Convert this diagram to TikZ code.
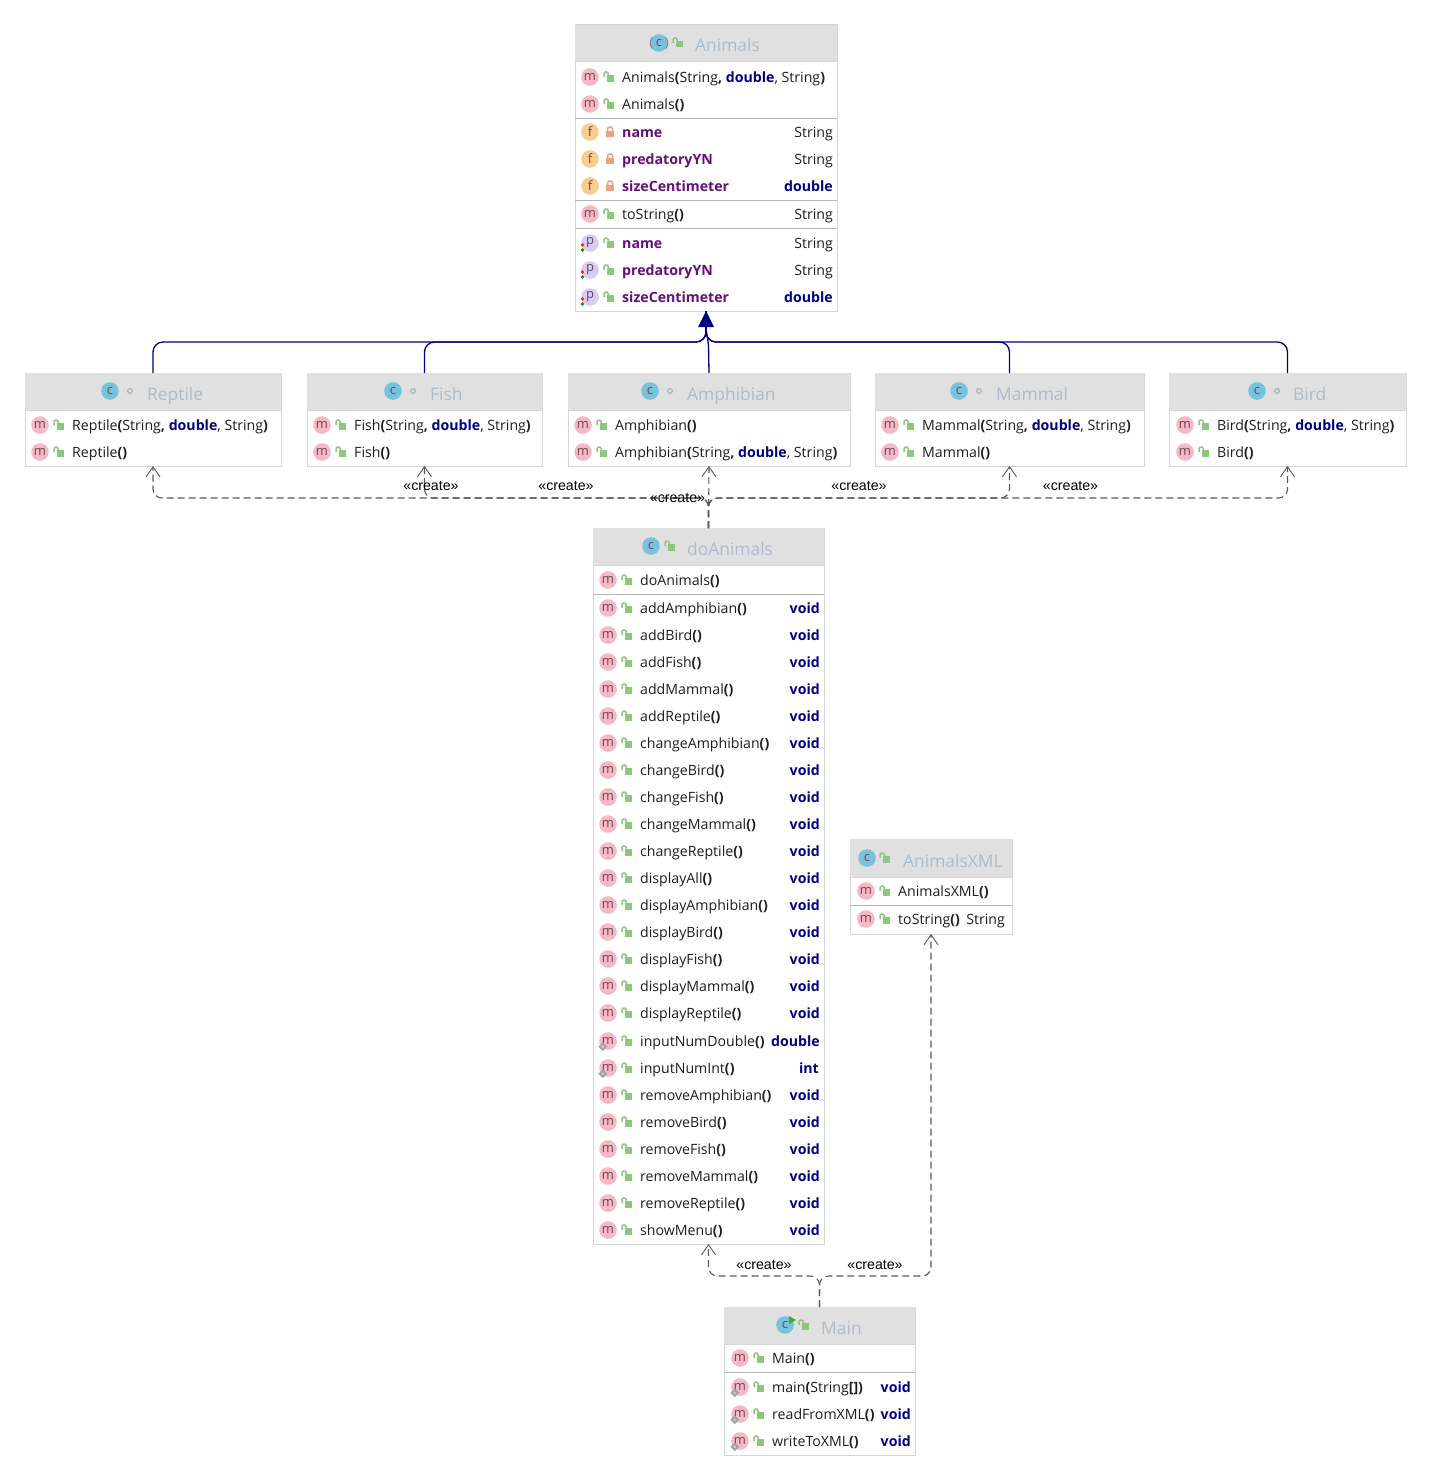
\documentclass[tikz,border=0pt]{standalone}
\usepackage{fontspec}
\setmainfont{Open Sans}
\newfontfamily\labelfont{Liberation Sans}
\usetikzlibrary{arrows.meta,calc}
\definecolor{hdr}{HTML}{E0E0E0}
\definecolor{bord}{HTML}{D4D6D8}
\definecolor{titlec}{HTML}{AEBBCB}
\definecolor{txt}{HTML}{1E1E1E}
\definecolor{kwc}{HTML}{000080}
\definecolor{fieldc}{HTML}{660E7A}
\definecolor{mic}{HTML}{F6B8C6}
\definecolor{fic}{HTML}{F8CE8E}
\definecolor{pic}{HTML}{D9CBF3}
\definecolor{cic}{HTML}{78C2DC}
\definecolor{lockg}{HTML}{8CC87C}
\definecolor{lockr}{HTML}{EDA07E}
\definecolor{icont}{HTML}{6A4A50}
\definecolor{depc}{HTML}{5A5A5A}
\definecolor{statc}{HTML}{9AA5AE}
\newcounter{nn}
\newcommand\kw[1]{\textbf{\textcolor{kwc}{#1}}}
\newcommand\pb[1]{\textbf{#1}}
\newcommand\fld[1]{\textbf{\textcolor{fieldc}{#1}}}
\newcommand\txtnode[4]{\stepcounter{nn}\node[#1] (n\thenn) at (#2,#3) {#4};}
\newcommand\iconl[4]{\begin{scope}[shift={(#1,#2)}]\fill[#3] (0,0) circle (8.8pt);\stepcounter{nn}\node[icontext] (n\thenn) at (0,0) {#4};\end{scope}}
\newcommand\lockopen[2]{\begin{scope}[shift={(#1,#2)}]\fill[lockg] (-2,-2) rectangle (5,4.5);\draw[lockg,line width=1.5pt,rounded corners=1.5pt] (-5,0) -- (-5,-5) -- (-0.7,-5) -- (-0.7,-2);\end{scope}}
\newcommand\lockshut[2]{\begin{scope}[shift={(#1,#2)}]\fill[lockr] (-4,-1) rectangle (4,5);\draw[lockr,line width=1.5pt,rounded corners=1.5pt] (-2.5,-1) -- (-2.5,-5) -- (2.5,-5) -- (2.5,-1);\end{scope}}
\newcommand\ringicon[2]{\draw[gray!70,line width=1pt] (#1,#2) circle (2.4pt);}
\newcommand\staticmark[2]{\begin{scope}[shift={(#1,#2)}]\draw[statc,line width=2pt] (-5.3,2.7) -- (-2.3,5.7) -- (-5.3,8.7) -- (-8.3,5.7) -- cycle;\end{scope}}
% row: x of icon, y, text, right text, x of right edge
\newcommand\mrow[5]{\iconl{#1}{#2}{mic}{m}\lockopen{\the\numexpr#1+19\relax}{#2}\txtnode{rowtext}{\the\numexpr#1+32\relax}{#2}{#3}\ifx&#4&\else\txtnode{righttext}{#5}{#2}{#4}\fi}
\newcommand\srow[5]{\iconl{#1}{#2}{mic}{m}\staticmark{#1}{#2}\lockopen{\the\numexpr#1+19\relax}{#2}\txtnode{rowtext}{\the\numexpr#1+32\relax}{#2}{#3}\ifx&#4&\else\txtnode{righttext}{#5}{#2}{#4}\fi}
\newcommand\frow[3]{\iconl{590}{#1}{fic}{f}\lockshut{610}{#1}\txtnode{rowtext}{622}{#1}{\fld{#2}}\txtnode{righttext}{833}{#1}{#3}}
\newcommand\prow[3]{\iconl{590}{#1}{pic}{p}\fill[red!70!orange] (582.5,#1+2) circle (1.8pt);\fill[green!60!black] (582.5,#1+7) circle (1.8pt);\lockopen{609}{#1}\txtnode{rowtext}{622}{#1}{\fld{#2}}\txtnode{righttext}{833}{#1}{#3}}
% header: x1,x2,top,bottom
\newcommand\hdrbar[4]{\fill[hdr] (#1,#3) rectangle (#2,#4);\draw[bord,line width=1pt] (#1,#4) -- (#2,#4);}
\newcommand\sepline[3]{\draw[bord!85!black,line width=1pt] (#1,#3) -- (#2,#3);}
\newcommand\ttl[3]{\txtnode{titletext}{#1}{#2}{#3}}
\tikzset{
  classbox/.style={draw=bord,line width=1pt,fill=white,inner sep=0pt,outer sep=0pt},
  rowtext/.style={anchor=west,inner sep=0pt,font=\fontsize{14.15}{16}\selectfont,text=txt,text height=14pt,text depth=3pt},
  righttext/.style={anchor=east,inner sep=0pt,font=\fontsize{14.15}{16}\selectfont,text=txt,text height=14pt,text depth=3pt},
  titletext/.style={anchor=west,inner sep=0pt,font=\fontsize{17.4}{20}\selectfont,text=titlec,text height=18pt,text depth=4pt},
  icontext/.style={inner sep=0pt,font=\fontsize{13}{14}\selectfont,text=icont},
  inherit/.style={draw=kwc,line width=1.3pt,rounded corners=10pt},
  dep/.style={draw=depc,line width=1.1pt,dash pattern=on 7pt off 4pt,rounded corners=9pt,-{Straight Barb[length=10pt,width=14pt,line width=.9pt]}},
  createlabel/.style={inner sep=0pt,font=\labelfont\fontsize{14.2}{16}\selectfont,text=black},
}
\begin{document}
\begin{tikzpicture}[x=1pt,y=-1pt]
\path[use as bounding box,fill=white] (0,0) rectangle (1431,1480);

% class boxes
\node[classbox,minimum width=262pt,minimum height=286pt] (animals) at (706,168) {};
\node[classbox,minimum width=256pt,minimum height=93pt] (reptile) at (153,419.5) {};
\node[classbox,minimum width=235pt,minimum height=93pt] (fish) at (424.5,419.5) {};
\node[classbox,minimum width=282pt,minimum height=93pt] (amphibian) at (709,419.5) {};
\node[classbox,minimum width=269pt,minimum height=93pt] (mammal) at (1009.5,419.5) {};
\node[classbox,minimum width=237pt,minimum height=93pt] (bird) at (1287.5,419.5) {};
\node[classbox,minimum width=231pt,minimum height=716pt] (doanimals) at (708.5,886) {};
\node[classbox,minimum width=162pt,minimum height=95pt] (xml) at (931,886.5) {};
\node[classbox,minimum width=191pt,minimum height=148pt] (mainc) at (819.5,1381) {};

% headers
\hdrbar{575}{837}{25}{62}
\hdrbar{25}{281}{373}{410}
\hdrbar{307}{542}{373}{410}
\hdrbar{568}{850}{373}{410}
\hdrbar{875}{1144}{373}{410}
\hdrbar{1169}{1406}{373}{410}
\hdrbar{593}{824}{528}{565}
\hdrbar{850}{1012}{839}{877}
\hdrbar{724}{915}{1307}{1344}

% separators
\sepline{575}{837}{118}
\sepline{575}{837}{200}
\sepline{575}{837}{228}
\sepline{593}{824}{594}
\sepline{850}{1012}{905}
\sepline{724}{915}{1372}

% titles
\iconl{659}{43}{cic}{c}\draw[gray,line width=.8pt] ($(659,43)+(140:8.8pt)$) arc (140:220:8.8pt);\draw[gray,line width=.8pt] ($(659,43)+(-40:8.8pt)$) arc (-40:40:8.8pt);
\lockopen{678}{43}\ttl{695}{45}{Animals}
\iconl{110}{391}{cic}{c}\ringicon{130}{391}\ttl{147}{393}{Reptile}
\iconl{393}{391}{cic}{c}\ringicon{413}{391}\ttl{430}{393}{Fish}
\iconl{650}{391}{cic}{c}\ringicon{670}{391}\ttl{687}{393}{Amphibian}
\iconl{959}{391}{cic}{c}\ringicon{979}{391}\ttl{996}{393}{Mammal}
\iconl{1257}{391}{cic}{c}\ringicon{1277}{391}\ttl{1293}{393}{Bird}
\iconl{651}{546}{cic}{c}\lockopen{670}{546}\ttl{687}{548}{doAnimals}
\iconl{867}{858}{cic}{c}\lockopen{885}{858}\ttl{903}{860}{AnimalsXML}
\iconl{785}{1325}{cic}{c}\fill[green!60!black!80] (789,1316) -- (796,1320) -- (789,1324) -- cycle;\lockopen{804}{1325}\ttl{821}{1327}{Main}

% Animals rows
\mrow{590}{77}{Animals\pb{(}String\pb{,} \kw{double}, String\pb{)}}{}{0}
\mrow{590}{104}{Animals\pb{()}}{}{0}
\frow{132}{name}{String}
\frow{159}{predatoryYN}{String}
\frow{186}{sizeCentimeter}{\kw{double}}
\mrow{590}{214}{toString\pb{()}}{String}{833}
\prow{243}{name}{String}
\prow{270}{predatoryYN}{String}
\prow{297}{sizeCentimeter}{\kw{double}}

% subclasses
\mrow{40}{425}{Reptile\pb{(}String\pb{,} \kw{double}, String\pb{)}}{}{0}
\mrow{40}{452}{Reptile\pb{()}}{}{0}
\mrow{322}{425}{Fish\pb{(}String\pb{,} \kw{double}, String\pb{)}}{}{0}
\mrow{322}{452}{Fish\pb{()}}{}{0}
\mrow{583}{425}{Amphibian\pb{()}}{}{0}
\mrow{583}{452}{Amphibian\pb{(}String\pb{,} \kw{double}, String\pb{)}}{}{0}
\mrow{890}{425}{Mammal\pb{(}String\pb{,} \kw{double}, String\pb{)}}{}{0}
\mrow{890}{452}{Mammal\pb{()}}{}{0}
\mrow{1185}{425}{Bird\pb{(}String\pb{,} \kw{double}, String\pb{)}}{}{0}
\mrow{1185}{452}{Bird\pb{()}}{}{0}

% doAnimals rows
\mrow{608}{580}{doAnimals\pb{()}}{}{0}
\mrow{608}{608}{addAmphibian\pb{()}}{\kw{void}}{820}
\mrow{608}{635}{addBird\pb{()}}{\kw{void}}{820}
\mrow{608}{662}{addFish\pb{()}}{\kw{void}}{820}
\mrow{608}{689}{addMammal\pb{()}}{\kw{void}}{820}
\mrow{608}{716}{addReptile\pb{()}}{\kw{void}}{820}
\mrow{608}{743}{changeAmphibian\pb{()}}{\kw{void}}{820}
\mrow{608}{770}{changeBird\pb{()}}{\kw{void}}{820}
\mrow{608}{797}{changeFish\pb{()}}{\kw{void}}{820}
\mrow{608}{824}{changeMammal\pb{()}}{\kw{void}}{820}
\mrow{608}{851}{changeReptile\pb{()}}{\kw{void}}{820}
\mrow{608}{878}{displayAll\pb{()}}{\kw{void}}{820}
\mrow{608}{905}{displayAmphibian\pb{()}}{\kw{void}}{820}
\mrow{608}{932}{displayBird\pb{()}}{\kw{void}}{820}
\mrow{608}{959}{displayFish\pb{()}}{\kw{void}}{820}
\mrow{608}{986}{displayMammal\pb{()}}{\kw{void}}{820}
\mrow{608}{1013}{displayReptile\pb{()}}{\kw{void}}{820}
\srow{608}{1041}{inputNumDouble\pb{()}}{\kw{double}}{820}
\srow{608}{1068}{inputNumInt\pb{()}}{\kw{int}}{819}
\mrow{608}{1095}{removeAmphibian\pb{()}}{\kw{void}}{820}
\mrow{608}{1122}{removeBird\pb{()}}{\kw{void}}{820}
\mrow{608}{1149}{removeFish\pb{()}}{\kw{void}}{820}
\mrow{608}{1176}{removeMammal\pb{()}}{\kw{void}}{820}
\mrow{608}{1203}{removeReptile\pb{()}}{\kw{void}}{820}
\mrow{608}{1230}{showMenu\pb{()}}{\kw{void}}{820}

% AnimalsXML rows
\mrow{866}{891}{AnimalsXML\pb{()}}{}{0}
\mrow{866}{919}{toString\pb{()}}{String}{1005}

% Main rows
\mrow{740}{1358}{Main\pb{()}}{}{0}
\srow{740}{1387}{main\pb{(}String\pb{[]}\pb{)}}{\kw{void}}{911}
\srow{740}{1414}{readFromXML\pb{()}}{\kw{void}}{911}
\srow{740}{1441}{writeToXML\pb{()}}{\kw{void}}{911}

% inheritance
\draw[inherit] (reptile.north) |- ($(animals.south)+(0,31)$) -- (animals.south);
\draw[inherit] (fish.north) |- ($(animals.south)+(0,31)$) -- (animals.south);
\draw[inherit] (mammal.north) |- ($(animals.south)+(0,31)$) -- (animals.south);
\draw[inherit] (bird.north) |- ($(animals.south)+(0,31)$) -- (animals.south);
\draw[inherit,rounded corners=0pt] (amphibian.north) -- ($(amphibian.north)+(-0.5,-28)$) -- ($(animals.south)+(0,18)$) -- (animals.south);
\fill[kwc] (animals.south) -- ($(animals.south)+(-8,16)$) -- ($(animals.south)+(8,16)$) -- cycle;

% dependencies
\draw[dep] (doanimals.north) |- ($(reptile.south)+(0,32)$) -- (reptile.south);
\draw[dep] (doanimals.north) |- ($(fish.south)+(0,32)$) -- (fish.south);
\draw[dep] (doanimals.north) -- (amphibian.south);
\draw[dep] (doanimals.north) |- ($(mammal.south)+(0,32)$) -- (mammal.south);
\draw[dep] (doanimals.north) |- ($(bird.south)+(0,32)$) -- (bird.south);
\draw[dep] (mainc.north) |- ($(doanimals.south)+(0,32)$) -- (doanimals.south);
\draw[dep] (mainc.north) |- ($(xml.south)+(0,342)$) -- (xml.south);

% labels
\node[createlabel] (c1) at (431,486) {«create»};
\node[createlabel] (c2) at (566,486) {«create»};
\node[createlabel] (c3) at (677.5,498) {«create»};
\node[createlabel] (c4) at (859,486) {«create»};
\node[createlabel] (c5) at (1070.5,486) {«create»};
\node[createlabel] (c6) at (764,1265) {«create»};
\node[createlabel] (c7) at (875,1265) {«create»};
\end{tikzpicture}
\end{document}
